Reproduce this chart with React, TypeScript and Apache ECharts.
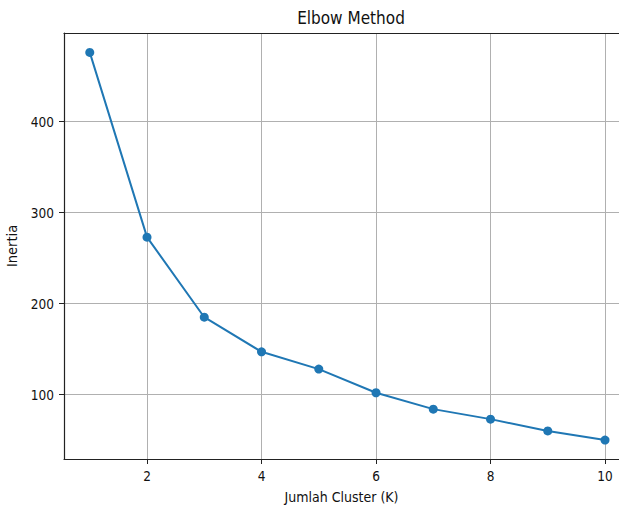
import React, { useEffect, useRef } from "react";
import * as echarts from "echarts";

const clusters = [1, 2, 3, 4, 5, 6, 7, 8, 9, 10];
const inertia = [476, 273, 185, 147, 128, 102, 84, 73, 60, 50];
const xTicks = [2, 4, 6, 8, 10];
const yTicks = [100, 200, 300, 400];

const FONT = "'DejaVu Sans Condensed', 'DejaVu Sans', sans-serif";

export default function App() {
  const ref = useRef<HTMLDivElement>(null);
  useEffect(() => {
    if (!ref.current) return;
    const chart = echarts.init(ref.current, undefined, { renderer: "svg" });
    const axisLine = { show: true, lineStyle: { color: "#222", width: 1.2 } };
    chart.setOption({
      animation: false,
      backgroundColor: "#fff",
      title: {
        text: "Elbow Method",
        left: 346,
        textAlign: "center",
        top: 4,
        textStyle: { fontFamily: FONT, fontSize: 17, fontWeight: "normal", color: "#111" },
      },
      grid: { left: 64, right: 0, top: 33, bottom: 49, outerBoundsMode: "none", containLabel: false },
      xAxis: [
        {
          type: "value",
          min: 0.55,
          max: 10.244,
          name: "Jumlah Cluster (K)",
          nameLocation: "middle",
          nameGap: 31,
          nameTextStyle: { fontFamily: FONT, fontSize: 14, color: "#111" },
          axisLine,
          axisTick: { show: true, length: 5, customValues: xTicks, lineStyle: { color: "#222" } },
          axisLabel: { customValues: xTicks, margin: 10, fontFamily: FONT, fontSize: 13.5, color: "#111" },
          splitLine: { show: true, lineStyle: { color: "#b0b0b0", width: 1 } },
        },
        {
          type: "value",
          position: "top",
          min: 0.55,
          max: 10.244,
          axisLine,
          axisTick: { show: false },
          axisLabel: { show: false },
          splitLine: { show: false },
        },
      ],
      yAxis: {
        type: "value",
        min: 29.2,
        max: 497.3,
        name: "Inertia",
        nameLocation: "middle",
        nameRotate: 90,
        nameGap: 36,
        nameTextStyle: { fontFamily: FONT, fontSize: 14.5, color: "#111" },
        axisLine,
        axisTick: { show: true, length: 5, customValues: yTicks, lineStyle: { color: "#222" } },
        axisLabel: { customValues: yTicks, margin: 10, fontFamily: FONT, fontSize: 13.5, color: "#111" },
        splitLine: { show: true, lineStyle: { color: "#b0b0b0", width: 1 } },
      },
      series: [
        {
          type: "line",
          data: clusters.map((k, i) => [k, inertia[i]]),
          symbol: "circle",
          symbolSize: 9,
          lineStyle: { color: "#1f77b4", width: 2 },
          itemStyle: { color: "#1f77b4" },
          clip: false,
        },
      ],
    });
    return () => chart.dispose();
  }, []);
  return <div ref={ref} style={{ position: "absolute", left: 0, top: 0, width: 619, height: 508 }} />;
}
